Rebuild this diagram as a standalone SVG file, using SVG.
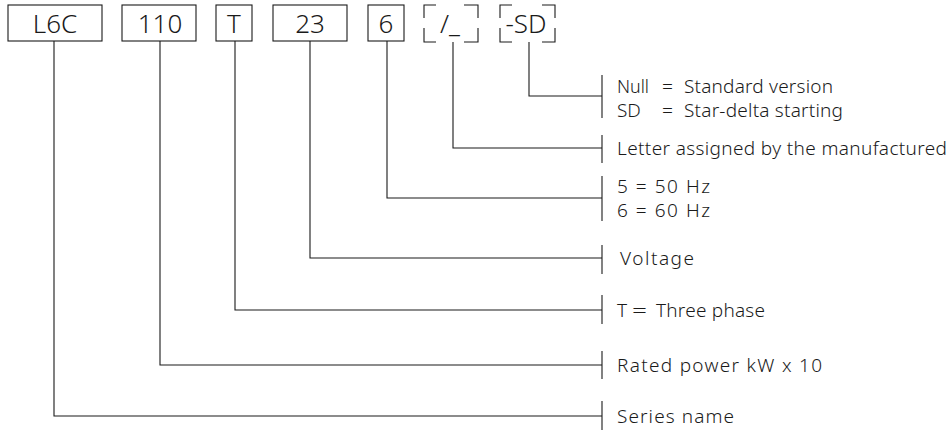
<svg xmlns="http://www.w3.org/2000/svg" width="952" height="430" viewBox="0 0 952 430">
<style>
.box{fill:#fff;stroke:#1a1a1a;stroke-width:1.1}
.dash{fill:none;stroke:#1a1a1a;stroke-width:1.1}
.code{font-family:"Noto Sans","Open Sans",sans-serif;font-size:26px;font-weight:300;fill:#1a1a1a;text-anchor:middle}
.lbl{font-family:"Noto Sans","Open Sans",sans-serif;font-size:19px;font-weight:300;fill:#1a1a1a}
.con{fill:none;stroke:#1a1a1a;stroke-width:1.1}
</style>
<rect width="952" height="430" fill="#fff"/>
<g id="node-L6C"><rect class="box" x="8" y="5" width="94" height="36"/><text class="code" x="55" y="33">L6C</text></g>
<g id="node-110"><rect class="box" x="122" y="5" width="74" height="36"/><text class="code" x="160" y="33">110</text></g>
<g id="node-T"><rect class="box" x="216" y="5" width="36" height="36"/><text class="code" x="234" y="33">T</text></g>
<g id="node-23"><rect class="box" x="273" y="5" width="74" height="36"/><text class="code" x="310" y="33">23</text></g>
<g id="node-6"><rect class="box" x="368" y="5" width="36" height="36"/><text class="code" x="386" y="33">6</text></g>
<g id="node-letter"><path class="dash" d="M424,18 V5 H436 M464,5 H478 V18 M478,28 V42 H464 M436,42 H424 V28"/><text class="code" x="450" y="33">/_</text></g>
<g id="node-SD"><path class="dash" d="M500,18 V5 H512 M542,5 H555 V18 M555,28 V42 H542 M512,42 H500 V28"/><text class="code" x="526" y="33">-SD</text></g>
<g id="connectors">
<path class="con" d="M529,42 V96 H602"/><path class="con" d="M602,75 V118"/>
<path class="con" d="M453,42 V148 H602"/><path class="con" d="M602,135 V163"/>
<path class="con" d="M387,41 V198 H602"/><path class="con" d="M602,176 V221"/>
<path class="con" d="M310,41 V258 H602"/><path class="con" d="M602,245 V274"/>
<path class="con" d="M235,41 V310 H602"/><path class="con" d="M602,295 V324"/>
<path class="con" d="M160,41 V365 H602"/><path class="con" d="M602,351 V379"/>
<path class="con" d="M54,41 V416 H602"/><path class="con" d="M602,401 V430"/>
</g>
<g id="label-SD">
<text class="lbl" x="617" y="93" textLength="32" lengthAdjust="spacingAndGlyphs">Null</text><text class="lbl" x="662" y="93" textLength="11" lengthAdjust="spacingAndGlyphs">=</text><text class="lbl" x="684" y="93" textLength="149" lengthAdjust="spacing">Standard version</text>
<text class="lbl" x="617" y="117">SD</text><text class="lbl" x="662" y="117" textLength="11" lengthAdjust="spacingAndGlyphs">=</text><text class="lbl" x="684" y="117" textLength="159" lengthAdjust="spacing">Star-delta starting</text>
</g>
<g id="label-letter"><text class="lbl" x="617" y="155" textLength="330" lengthAdjust="spacing">Letter assigned by the manufactured</text></g>
<g id="label-hz"><text class="lbl" x="617" y="193" textLength="93" lengthAdjust="spacing">5 = 50 Hz</text><text class="lbl" x="617" y="217" textLength="93" lengthAdjust="spacing">6 = 60 Hz</text></g>
<g id="label-voltage"><text class="lbl" x="620" y="265" textLength="74" lengthAdjust="spacing">Voltage</text></g>
<g id="label-phase"><text class="lbl" x="617" y="317">T</text><text class="lbl" x="632" y="317" textLength="15" lengthAdjust="spacingAndGlyphs">=</text><text class="lbl" x="656" y="317" textLength="109" lengthAdjust="spacing">Three phase</text></g>
<g id="label-power"><text class="lbl" x="617" y="372" textLength="205" lengthAdjust="spacing">Rated power kW x 10</text></g>
<g id="label-series"><text class="lbl" x="617" y="423" textLength="117" lengthAdjust="spacing">Series name</text></g>
</svg>
